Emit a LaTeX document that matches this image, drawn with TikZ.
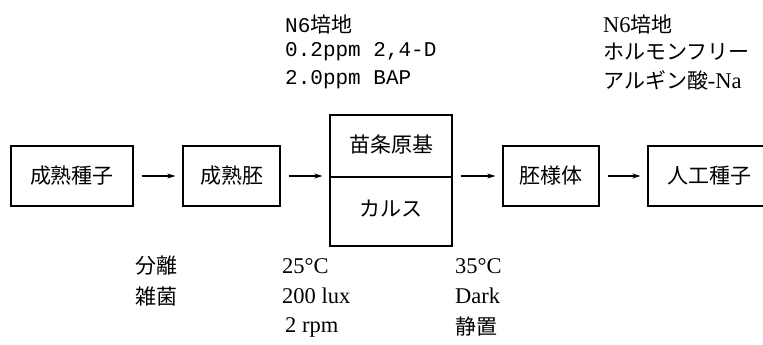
\documentclass[tikz,border=0pt]{standalone}
\usepackage{fontspec}
\setmainfont{Liberation Serif}
\newfontfamily\jp{Noto Sans CJK JP}
\newfontfamily\mono{Liberation Mono}
\usetikzlibrary{arrows.meta}
\begin{document}
\begin{tikzpicture}[x=1pt,y=-1pt,
  every node/.style={font=\fontsize{21}{27}\selectfont},
  box/.style={draw,line width=1.1pt,minimum height=60pt,inner sep=0pt},
  lbl/.style={anchor=west,inner sep=0pt},
  big/.style={font=\fontsize{22.5}{27}\selectfont},
  flow/.style={line width=1.1pt,shorten <=8pt,shorten >=7pt,-{Stealth[length=8pt,width=5pt]}}]
\clip (0,0) rectangle (763,345);
\node[box,minimum width=122pt] (b1) at (72,176) {\jp 成熟種子};
\node[box,minimum width=97pt] (b2) at (231.5,176) {\jp 成熟胚};
\node[box,minimum width=122pt,minimum height=131pt] (b3) at (391,180.5) {};
\coordinate (m) at (391,177);
\draw[line width=1.1pt] (b3.west |- m) -- (b3.east |- m);
\node (t3a) at (391,144) {\jp 苗条原基};
\node (t3b) at (391,209) {\jp カルス};
\node[box,minimum width=96pt] (b4) at (551,176) {\jp 胚様体};
\node[box,minimum width=122pt] (b5) at (709,176) {\jp 人工種子};
\draw[flow] (b1.east) -- (b2.west);
\draw[flow] (b2.east) -- (b2.east -| b3.west);
\draw[flow] (b4.west -| b3.east) -- (b4.west);
\draw[flow] (b4.east) -- (b5.west);
% top labels
\node[lbl] (u1) at (285,25) {\mono N6\jp 培地};
\node[lbl] (u2) at (285,52) {\mono 0.2ppm 2,4-D};
\node[lbl] (u3) at (285,80) {\mono 2.0ppm BAP};
\node[lbl,big] (v1) at (603,25) {N6{\fontsize{21}{27}\selectfont\jp 培地}};
\node[lbl] (v2) at (603,52) {\jp ホルモンフリー};
\node[lbl] (v3) at (603,80) {{\jp アルギン酸}{\fontsize{22.5}{27}\selectfont -Na}};
% bottom labels
\node[lbl] (w1) at (135,266) {\jp 分離};
\node[lbl] (w2) at (135,296) {\jp 雑菌};
\node[lbl,big] (x1) at (282,266) {25°C};
\node[lbl,big] (x2) at (282,296) {200 lux};
\node[lbl,big] (x3) at (285,327) {2 rpm};
\node[lbl,big] (y1) at (455,266) {35°C};
\node[lbl,big] (y2) at (455,296) {Dark};
\node[lbl] (y3) at (455,327) {\jp 静置};
\end{tikzpicture}
\end{document}
